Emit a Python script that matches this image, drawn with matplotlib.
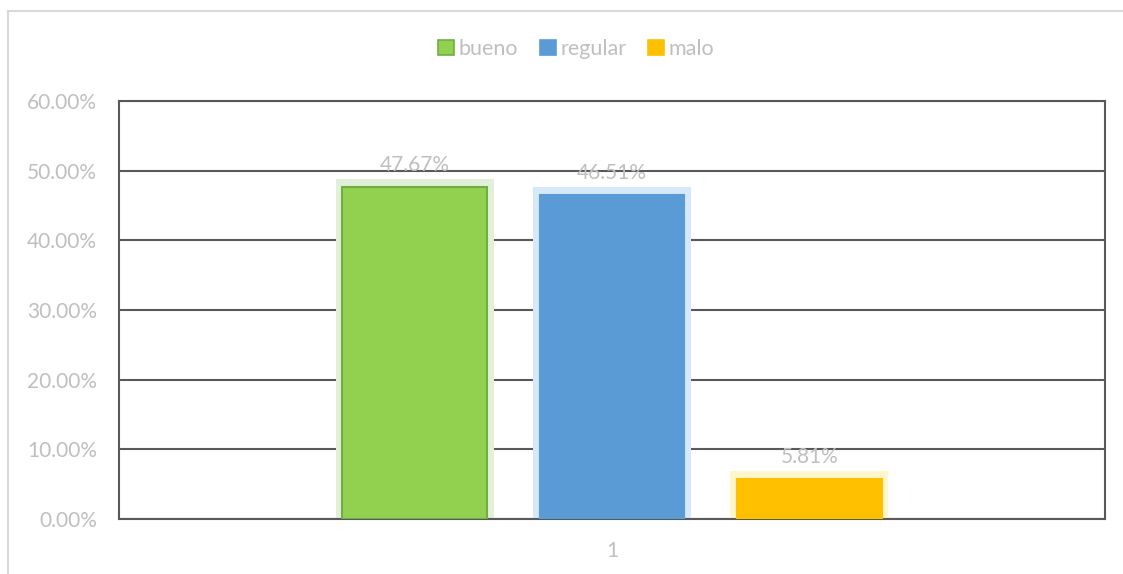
import matplotlib
matplotlib.use("Agg")
import matplotlib.pyplot as plt
from matplotlib.lines import Line2D
from matplotlib.patches import Patch
from matplotlib.ticker import FuncFormatter

categories = ["1"]
series = ["bueno", "regular", "malo"]
values = [0.4767, 0.4651, 0.0581]
labels = ["47.67%", "46.51%", "5.81%"]
yticks = [0.0, 0.1, 0.2, 0.3, 0.4, 0.5, 0.6]

colors = ["#92d050", "#5b9bd5", "#ffc000"]
edges = ["#70ad47", "#5b9bd5", "#ffc000"]
glows = ["#e2f0d9", "#d6e8fa", "#fff6cc"]
offsets = [-0.2, 0.0, 0.2]
width = 0.147
glow_width = 0.16

plt.rcParams['font.family'] = ['Lato', 'DejaVu Sans']
txt = "#bfbfbf"
grid_c = "#595959"
fs = 15

fig = plt.figure(figsize=(11.23, 5.74), dpi=100)
ax = fig.add_axes([119/1123, 1-519/574, (1105-119)/1123, (519-101)/574])

# outer frame lines (light gray, left & top)
fig.add_artist(Line2D([8/1123, 8/1123], [0, 1-11/574], color="#d9d9d9", lw=1.5, transform=fig.transFigure))
fig.add_artist(Line2D([8/1123, 1], [1-11/574, 1-11/574], color="#d9d9d9", lw=1.5, transform=fig.transFigure))

ax.set_xlim(-0.5, 0.5)
ax.set_ylim(0, 0.6)
ax.set_yticks(yticks)
ax.yaxis.set_major_formatter(FuncFormatter(lambda v, p: f"{v*100:.2f}%"))
ax.set_xticks([0])
ax.set_xticklabels(categories)
ax.tick_params(axis='both', length=0, colors=txt, labelsize=fs)
ax.tick_params(axis='y', pad=16)
ax.tick_params(axis='x', pad=16)
for s in ax.spines.values():
    s.set_color(grid_c)
    s.set_linewidth(1.5)
ax.grid(axis='y', color=grid_c, lw=1.5)
ax.set_axisbelow(True)

handles = []
for i, (name, v) in enumerate(zip(series, values)):
    x = 0 + offsets[i]
    ax.bar(x, v + 0.011, width=glow_width, color=glows[i], zorder=2, linewidth=0)
    ax.bar(x, v, width=width, color=colors[i], edgecolor=edges[i], linewidth=1.5, zorder=3)
    ax.text(x, v + 0.017, labels[i], ha='center', va='bottom', color=txt, fontsize=fs, zorder=4)
    handles.append(Patch(facecolor=colors[i], edgecolor=edges[i], linewidth=1.2, label=name))

fig.legend(handles=handles, loc='center', bbox_to_anchor=(576/1123, 1-49/574), ncol=3,
           frameon=False, fontsize=15.5, labelcolor=txt, handlelength=0.75, handleheight=0.75,
           handletextpad=0.2, columnspacing=1.0)

fig.savefig("out.png", dpi=100)
